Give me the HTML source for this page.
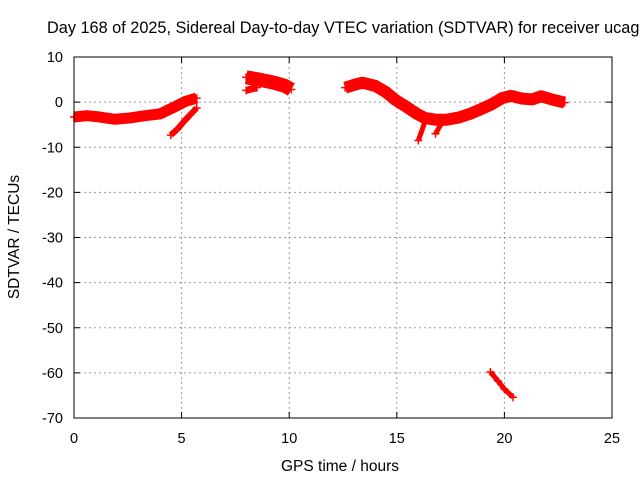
<!DOCTYPE html>
<html><head><meta charset="utf-8"><style>
body{margin:0;background:#fff}
svg{display:block;font-family:"Liberation Sans",sans-serif}
</style></head><body>
<svg id="chart" width="640" height="480" viewBox="0 0 640 480">
<rect width="640" height="480" fill="#fff"/>
<g id="grid"></g>
<g id="series"></g>
<g id="axes"></g>
<text x="47" y="33" font-size="16.3">Day 168 of 2025, Sidereal Day-to-day VTEC variation (SDTVAR) for receiver ucag</text>
<text x="340" y="471" font-size="15.5" text-anchor="middle">GPS time / hours</text>
<text transform="translate(19,237) rotate(-90)" font-size="15.5" text-anchor="middle">SDTVAR / TECUs</text>
</svg>
<script>
const xTicks=[0,5,10,15,20,25];
const yTicks=[10,0,-10,-20,-30,-40,-50,-60,-70];
const s1x=[0,0.6,1.2,1.9,2.6,3.3,4.0,4.7,5.2,5.7];
const s1y=[-3.3,-3.0,-3.3,-3.8,-3.5,-3.0,-2.6,-1.0,0.2,0.9];
const s1bx=[5.7,5.2,4.8,4.5];
const s1by=[-1.3,-3.8,-6.0,-7.3];
const s2x=[8.0,8.6,9.3,9.8,10.1];
const s2y=[5.5,5.0,4.3,3.6,2.8];
const s2bx=[8.0,8.5];
const s2by=[2.6,3.2];
const s3x=[12.6,13.0,13.4,14.0,14.5,14.9,15.4,15.9,16.3,16.8,17.3,17.9,18.4,18.9,19.4,19.9,20.3,20.8,21.3,21.7,22.2,22.8];
const s3y=[3.2,3.8,4.3,3.6,2.2,0.6,-0.9,-2.5,-3.5,-3.9,-3.9,-3.4,-2.6,-1.6,-0.5,0.9,1.4,0.8,0.6,1.3,0.6,-0.1];
const s3bx=[16.3,16.0];
const s3by=[-4.5,-8.5];
const s3cx=[17.1,16.8];
const s3cy=[-4.5,-7.0];
const s4x=[19.35,19.7,20.0,20.4];
const s4y=[-59.8,-61.8,-63.6,-65.4];
const L=74,R=612,T=57,B=418;
const xs=h=>L+(h-0)/(25-0)*(R-L);
const ys=v=>T+(10-v)/(80)*(B-T);
const NS='http://www.w3.org/2000/svg';
function mk(tag,attrs,parent){const e=document.createElementNS(NS,tag);for(const k in attrs)e.setAttribute(k,attrs[k]);parent.appendChild(e);return e;}
const grid=document.getElementById('grid'),axes=document.getElementById('axes'),ser=document.getElementById('series');
xTicks.forEach(t=>{
 if(t>0&&t<25){const g=mk('line',{x1:xs(t),x2:xs(t),y1:T,y2:B,stroke:'#999','stroke-dasharray':'2,3','stroke-width':1},grid);
 
 }
 const a=mk('path',{d:`M${xs(t)},${B}v-6M${xs(t)},${T}v6`,stroke:'#000'},axes);
 
 
 const tx=mk('text',{x:xs(t),y:B+25,'font-size':14.5,'text-anchor':'middle'},axes);tx.textContent=t;
 
 
});
yTicks.forEach(t=>{
 if(t<10&&t>-70){const g=mk('line',{x1:L,x2:R,y1:ys(t),y2:ys(t),stroke:'#999','stroke-dasharray':'2,3','stroke-width':1},grid);
 
 }
 const a=mk('path',{d:`M${L},${ys(t)}h6M${R},${ys(t)}h-6`,stroke:'#000'},axes);
 
 
 const tx=mk('text',{x:L-11,y:ys(t)+5,'font-size':14.5,'text-anchor':'end'},axes);tx.textContent=t;
 
 
});
const bx=mk('rect',{x:L,y:T,width:R-L,height:B-T,fill:'none',stroke:'#000'},axes);


function band(xa,ya,w,name){
 const pts=xa.map((x,i)=>xs(x)+','+ys(ya[i])).join(' ');
 const p=mk('polyline',{points:pts,fill:'none',stroke:'#f00','stroke-width':w,'stroke-linejoin':'round','stroke-linecap':'butt'},ser);
 
 
 xa.forEach((x,i)=>{const m=mk('path',{d:`M${xs(x)-4},${ys(ya[i])}h8M${xs(x)},${ys(ya[i])-4}v8`,stroke:'#f00','stroke-width':1.5},ser);
 
 });
}
band(s1x,s1y,11,'series-morning');
band(s1bx,s1by,6,'series-morning-branch');
band(s2x,s2y,14,'series-midday');
band(s2bx,s2by,7,'series-midday-branch');
band(s3x,s3y,12,'series-afternoon');
band(s3bx,s3by,5,'series-afternoon-prong1');
band(s3cx,s3cy,5,'series-afternoon-prong2');
band(s4x,s4y,5,'series-outlier');
</script>
</body></html>
